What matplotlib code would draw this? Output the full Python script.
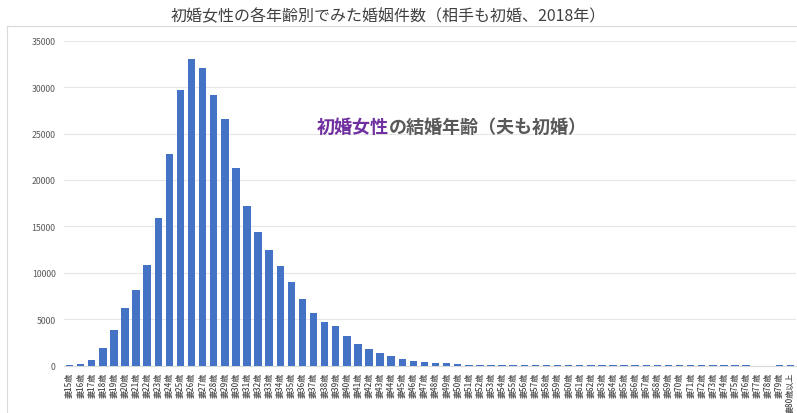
import matplotlib
matplotlib.use("Agg")
import matplotlib.pyplot as plt
from matplotlib.lines import Line2D

plt.rcParams['font.family'] = ['Noto Sans CJK JP', 'DejaVu Sans']

ages = [f"妻{a}歳" for a in range(15, 80)] + ["妻80歳以上"]
counts = [40, 200, 570, 1900, 3850, 6250, 8130, 10850, 15900, 22800,
          29650, 33000, 32100, 29100, 26600, 21250, 17170, 14430, 12490, 10760,
          9040, 7130, 5720, 4720, 4250, 3170, 2300, 1760, 1330, 1010,
          760, 540, 430, 320, 290, 180, 110, 100, 70, 60,
          55, 50, 50, 48, 46, 45, 44, 42, 40, 40,
          38, 37, 36, 35, 34, 33, 32, 31, 30, 30,
          30, 30, 0, 0, 30, 40]
yticks = [0, 5000, 10000, 15000, 20000, 25000, 30000, 35000]
title = "初婚女性の各年齢別でみた婚姻件数（相手も初婚、2018年）"
note_a = "初婚女性"
note_b = "の結婚年齢（夫も初婚）"

W, H = 797, 414
fig = plt.figure(figsize=(W / 100, H / 100), dpi=100)
fig.patch.set_facecolor("white")

# outer chart border
fig.add_artist(Line2D([7 / W, 7 / W], [0, 1 - 27 / H], color="#d9d9d9", lw=0.8, transform=fig.transFigure))
fig.add_artist(Line2D([7 / W, 1], [1 - 27 / H, 1 - 27 / H], color="#d9d9d9", lw=0.8, transform=fig.transFigure))

left, right = 64, 796
bottom_px, top_px = 366.7, 41.7
ax = fig.add_axes([left / W, 1 - bottom_px / H, (right - left) / W, (bottom_px - top_px) / H])

x = list(range(len(ages)))
ax.bar(x, counts, width=0.68, color="#4472C4", zorder=3)
ax.set_xlim(-0.5, len(ages) - 0.5)
ax.set_ylim(0, 35000)
ax.set_yticks(yticks)
ax.set_yticklabels([str(v) for v in yticks], fontsize=6.3, color="#595959")
ax.set_xticks(x)
ax.set_xticklabels(ages, rotation=90, fontsize=5.8, color="#4a4a4a", va="top", fontweight="medium")
ax.tick_params(axis="both", length=0)
ax.tick_params(axis="y", pad=6)
ax.tick_params(axis="x", pad=4)
ax.grid(axis="y", color="#e6e6e6", lw=0.8, zorder=0)
for s in ["top", "right", "left"]:
    ax.spines[s].set_visible(False)
ax.spines["bottom"].set_color("#d9d9d9")
ax.spines["bottom"].set_linewidth(0.8)

fig.text(388 / W, 1 - 17 / H, title, ha="center", va="center", fontsize=11.5, color="#404040")

t1 = fig.text(317 / W, 1 - 127 / H, note_a, ha="left", va="center", fontsize=13, fontweight="bold", color="#7030A0")
fig.canvas.draw()
ax.annotate(note_b, xy=(1, 0.5), xycoords=t1, ha="left", va="center", fontsize=13, fontweight="bold", color="#595959")

fig.savefig("out.png", dpi=100, facecolor="white")
